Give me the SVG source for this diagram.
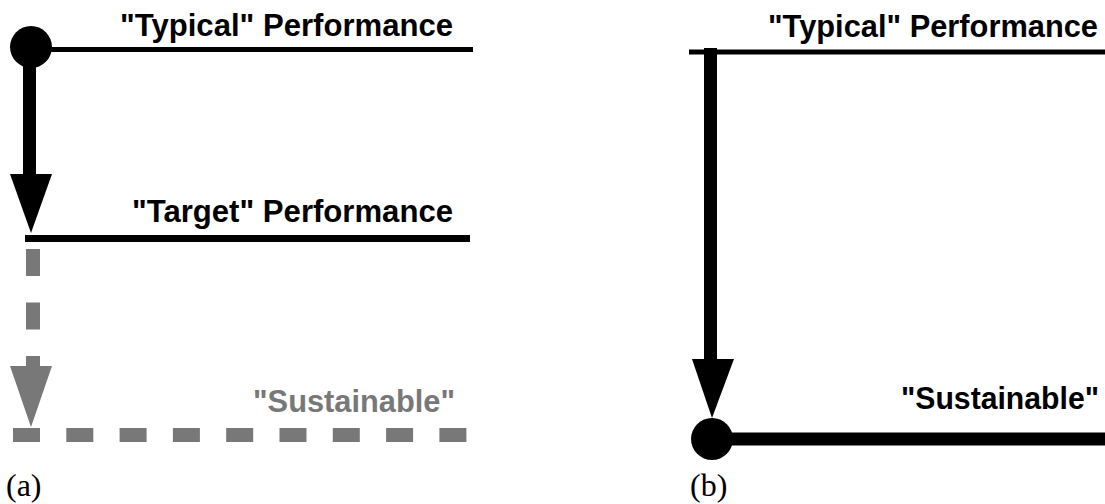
<svg xmlns="http://www.w3.org/2000/svg" width="1105" height="504" viewBox="0 0 1105 504">
<style>
.lbl{font-family:"Liberation Sans",Arial,sans-serif;font-weight:bold;font-size:31.5px;text-anchor:start}
.blk{fill:#000}
.gry{fill:#787878}
.cap{font-family:"Liberation Serif","Times New Roman",serif;font-size:32px;fill:#000}
</style>
<rect width="1105" height="504" fill="#fff"/>
<g id="panel-a">
  <g id="a-typical">
    <line x1="31" y1="49.5" x2="473" y2="49.5" stroke="#000" stroke-width="5"/>
    <circle cx="31" cy="47" r="21" fill="#000"/>
    <text class="lbl blk" x="120" y="36" textLength="333" lengthAdjust="spacingAndGlyphs">"Typical" Performance</text>
  </g>
  <g id="a-target">
    <line x1="25" y1="238.5" x2="470" y2="238.5" stroke="#000" stroke-width="7"/>
    <text class="lbl blk" x="132" y="222" textLength="321" lengthAdjust="spacingAndGlyphs">"Target" Performance</text>
  </g>
  <g id="a-sustainable">
    <line x1="13" y1="435" x2="470" y2="435" stroke="#787878" stroke-width="14" stroke-dasharray="27 26.3"/>
    <text class="lbl gry" x="253" y="412" textLength="202" lengthAdjust="spacingAndGlyphs">"Sustainable"</text>
  </g>
  <g id="a-connectors">
    <line x1="29.5" y1="60" x2="29.5" y2="176" stroke="#000" stroke-width="13"/>
    <polygon points="10,174 52,174 31,233" fill="#000"/>
    <line x1="33" y1="249" x2="33" y2="368" stroke="#787878" stroke-width="14" stroke-dasharray="27 26.5"/>
    <polygon points="10,366 52,366 31,427" fill="#787878"/>
  </g>
  <text class="cap" x="6" y="496">(a)</text>
</g>
<g id="panel-b">
  <g id="b-typical">
    <line x1="689" y1="52" x2="1105" y2="52" stroke="#000" stroke-width="5"/>
    <text class="lbl blk" x="768" y="37" textLength="330" lengthAdjust="spacingAndGlyphs">"Typical" Performance</text>
  </g>
  <g id="b-sustainable">
    <line x1="712" y1="439" x2="1105" y2="439" stroke="#000" stroke-width="13"/>
    <circle cx="712" cy="439" r="21" fill="#000"/>
    <text class="lbl blk" x="901" y="409" textLength="198" lengthAdjust="spacingAndGlyphs">"Sustainable"</text>
  </g>
  <g id="b-connectors">
    <line x1="710.5" y1="48" x2="710.5" y2="361" stroke="#000" stroke-width="13"/>
    <polygon points="692,359 734,359 712,418" fill="#000"/>
  </g>
  <text class="cap" x="690" y="496">(b)</text>
</g>
</svg>
